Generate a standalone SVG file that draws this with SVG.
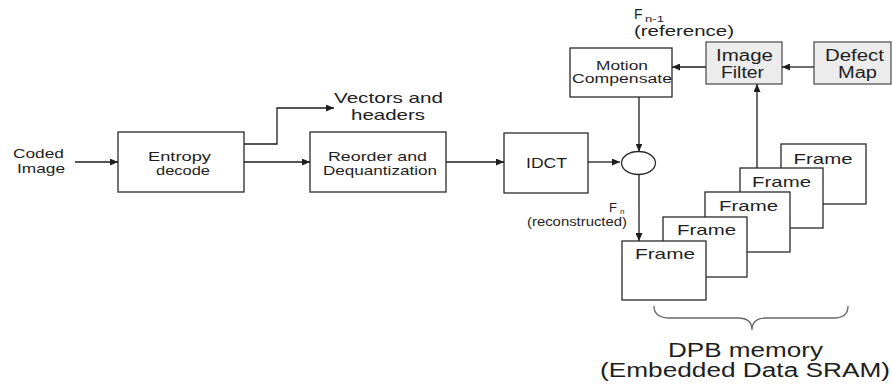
<svg xmlns="http://www.w3.org/2000/svg" width="892" height="385" viewBox="0 0 892 385">
<style>
text{font-family:"Liberation Sans",Arial,sans-serif;fill:#1e1e1e}
.box{fill:#fff;stroke:#2a2a2a;stroke-width:1.3}
.gbox{fill:#ececec;stroke:#555;stroke-width:1.3}
.ln{fill:none;stroke:#1e1e1e;stroke-width:1.3}
.m{text-anchor:middle}
</style>
<defs>
<marker id="ah" markerUnits="userSpaceOnUse" markerWidth="8" markerHeight="7" refX="8" refY="3.5" orient="auto">
<path d="M0,0 L8,3.5 L0,7 z" fill="#1e1e1e"/>
</marker>
</defs>
<rect width="892" height="385" fill="#fff"/>
<g id="coded-image">
<text x="38.5" y="158" font-size="13" class="m" textLength="51" lengthAdjust="spacingAndGlyphs">Coded</text>
<text x="41" y="173" font-size="13" class="m" textLength="48" lengthAdjust="spacingAndGlyphs">Image</text>
</g>
<g id="entropy">
<rect class="box" x="118" y="132" width="126" height="60"/>
<text x="179.5" y="160.5" font-size="13" class="m" textLength="63" lengthAdjust="spacingAndGlyphs">Entropy</text>
<text x="183" y="174.5" font-size="13" class="m" textLength="54" lengthAdjust="spacingAndGlyphs">decode</text>
</g>
<g id="vectors">
<text x="388.5" y="103" font-size="15" class="m" textLength="109" lengthAdjust="spacingAndGlyphs">Vectors and</text>
<text x="388" y="120" font-size="15" class="m" textLength="74" lengthAdjust="spacingAndGlyphs">headers</text>
</g>
<g id="reorder">
<rect class="box" x="310" y="132" width="136" height="60"/>
<text x="377.5" y="160.5" font-size="13" class="m" textLength="99" lengthAdjust="spacingAndGlyphs">Reorder and</text>
<text x="380" y="175" font-size="13" class="m" textLength="114" lengthAdjust="spacingAndGlyphs">Dequantization</text>
</g>
<g id="idct">
<rect class="box" x="504" y="133" width="84" height="60"/>
<text x="546.5" y="168" font-size="14" class="m" textLength="41" lengthAdjust="spacingAndGlyphs">IDCT</text>
</g>
<g id="sum">
<ellipse class="box" cx="638.5" cy="163" rx="17" ry="11.5"/>
</g>
<g id="motion">
<rect class="box" x="570" y="48" width="102" height="49"/>
<text x="622" y="70" font-size="12.5" class="m" textLength="52" lengthAdjust="spacingAndGlyphs">Motion</text>
<text x="622" y="83" font-size="12.5" class="m" textLength="100" lengthAdjust="spacingAndGlyphs">Compensate</text>
</g>
<g id="image-filter">
<rect class="gbox" x="706" y="42" width="76" height="42"/>
<text x="744.5" y="61" font-size="16" class="m" textLength="57" lengthAdjust="spacingAndGlyphs">Image</text>
<text x="742.5" y="78" font-size="16" class="m" textLength="43" lengthAdjust="spacingAndGlyphs">Filter</text>
</g>
<g id="defect-map">
<rect class="gbox" x="814" y="42" width="77" height="42"/>
<text x="854.5" y="61" font-size="16" class="m" textLength="59" lengthAdjust="spacingAndGlyphs">Defect</text>
<text x="857.5" y="78" font-size="16" class="m" textLength="39" lengthAdjust="spacingAndGlyphs">Map</text>
</g>
<g id="fn1-label">
<text x="634" y="19" font-size="14">F</text>
<text x="645" y="22" font-size="9" textLength="19" lengthAdjust="spacingAndGlyphs">n-1</text>
<text x="634" y="36" font-size="14" textLength="100" lengthAdjust="spacingAndGlyphs">(reference)</text>
</g>
<g id="fn-label">
<text x="609" y="212" font-size="13">F</text>
<text x="620" y="214" font-size="8">n</text>
<text x="527" y="226" font-size="12" textLength="100" lengthAdjust="spacingAndGlyphs">(reconstructed)</text>
</g>
<g id="frame5">
<rect class="box" x="781" y="144" width="85" height="60"/>
<text x="823" y="164" font-size="15" class="m" textLength="59" lengthAdjust="spacingAndGlyphs">Frame</text>
</g>
<g id="frame4">
<rect class="box" x="740" y="168" width="83" height="60"/>
<text x="781.5" y="187" font-size="15" class="m" textLength="59" lengthAdjust="spacingAndGlyphs">Frame</text>
</g>
<g id="frame3">
<rect class="box" x="705" y="192" width="85" height="60"/>
<text x="748.5" y="211" font-size="15" class="m" textLength="59" lengthAdjust="spacingAndGlyphs">Frame</text>
</g>
<g id="frame2">
<rect class="box" x="663" y="217" width="84" height="60"/>
<text x="706.5" y="235" font-size="15" class="m" textLength="59" lengthAdjust="spacingAndGlyphs">Frame</text>
</g>
<g id="frame1">
<rect class="box" x="622" y="241" width="84" height="59"/>
<text x="665" y="259" font-size="15" class="m" textLength="60" lengthAdjust="spacingAndGlyphs">Frame</text>
</g>
<g id="dpb">
<path d="M654,306 C654,314 660,318 670,318 L738,318 C747,318 752,322 752,330 C752,322 757,318 766,318 L834,318 C844,318 848,314 848,306" fill="none" stroke="#666" stroke-width="1.3"/>
<text x="745.5" y="357" font-size="20" class="m" textLength="155" lengthAdjust="spacingAndGlyphs">DPB memory</text>
<text x="745" y="377" font-size="20" class="m" textLength="290" lengthAdjust="spacingAndGlyphs">(Embedded Data SRAM)</text>
</g>
<g id="connectors">
<path class="ln" d="M75,162 H118" marker-end="url(#ah)"/>
<path class="ln" d="M244,144 H277 V108 H334" marker-end="url(#ah)"/>
<path class="ln" d="M244,162 H310" marker-end="url(#ah)"/>
<path class="ln" d="M446,162 H504" marker-end="url(#ah)"/>
<path class="ln" d="M588,162 H620" marker-end="url(#ah)"/>
<path class="ln" d="M639,97 V151.5" marker-end="url(#ah)"/>
<path class="ln" d="M639,174.5 V241" marker-end="url(#ah)"/>
<path class="ln" d="M706,67 H672" marker-end="url(#ah)"/>
<path class="ln" d="M814,67 H782" marker-end="url(#ah)"/>
<path class="ln" d="M757,168 V84" marker-end="url(#ah)"/>
</g>
</svg>
